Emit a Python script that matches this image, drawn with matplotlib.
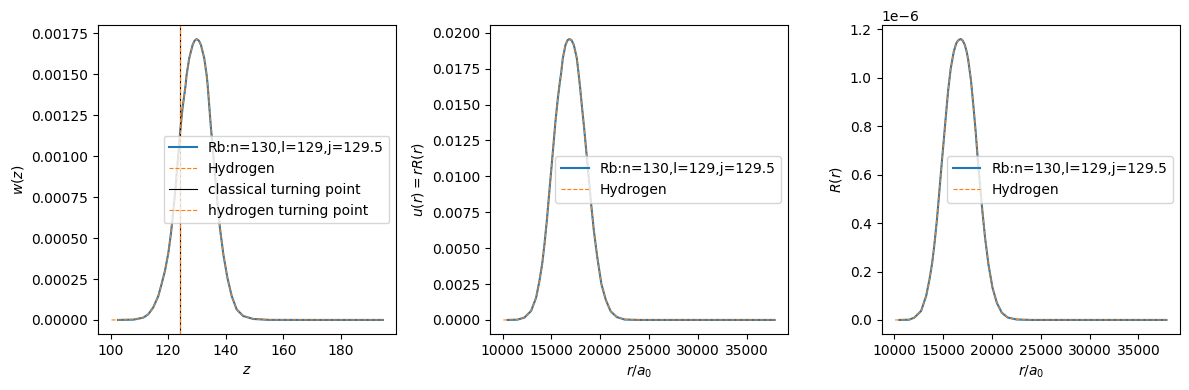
import numpy as np
import matplotlib
matplotlib.use("Agg")
import matplotlib.pyplot as plt

# values
# panel 1: w(z)
z_rb = [102.6, 108.0, 111.4, 113.1, 114.8, 116.6, 117.7, 118.9, 120.1, 121.0,
        121.8, 122.6, 123.4, 124.2, 125.0, 126.09, 126.43, 127.34, 128.52,
        129.2, 129.91, 130.7, 131.41, 132.56, 133.39, 133.74, 134.8, 135.5,
        136.3, 137.1, 138.0, 139.2, 140.6, 142.1, 143.8, 146.1, 149.6, 155.0,
        170.0, 194.6]
w_rb = [0.0, 0.000002, 0.0000142, 0.0000345, 0.0000751, 0.000146, 0.000217,
        0.000299, 0.000410, 0.000530, 0.000660, 0.000810, 0.000980, 0.001150,
        0.001290, 0.001435, 0.001496, 0.001598, 0.001679, 0.001705, 0.001715,
        0.001705, 0.001679, 0.001598, 0.001496, 0.001435, 0.001192, 0.001050,
        0.000888, 0.000725, 0.000563, 0.000400, 0.000258, 0.000146, 0.000065,
        0.000024, 0.000006, 0.0000005, 0.0, 0.0]
z_h_start = 100.35
z_turn = 124.2

# panel 2: u(r) = rR(r)
r_u = [10510, 11500, 12229, 12913, 13427, 13769, 14043, 14283, 14522, 14728,
       14967, 15207, 15412, 15652, 15850, 15998, 16163, 16440, 16650, 16851,
       17060, 17293, 17601, 17775, 17950, 18120, 18360, 18570, 18820, 19070,
       19350, 19700, 20120, 20570, 21070, 21700, 22500, 24000, 30000, 37870]
u_rb = [0.0, 0.00002, 0.000162, 0.000625, 0.00155, 0.00271, 0.00386, 0.00525,
        0.00687, 0.00849, 0.01035, 0.01220, 0.01382, 0.01540, 0.01650, 0.01720,
        0.01822, 0.01915, 0.01948, 0.01956, 0.01948, 0.01915, 0.01822, 0.01720,
        0.01610, 0.01490, 0.01330, 0.01176, 0.00991, 0.00806, 0.00620, 0.00435,
        0.00250, 0.00140, 0.00060, 0.00020, 0.00003, 0.0, 0.0, 0.0]

# panel 3: R(r)
r_R = [10490, 11500, 12040, 12731, 13248, 13594, 13870, 14111, 14353, 14560,
       14802, 15043, 15250, 15492, 15768, 16079, 16300, 16424, 16610, 16804,
       17010, 17218, 17400, 17563, 17839, 18081, 18323, 18530, 18771, 19013,
       19289, 19634, 20049, 20500, 21000, 21600, 22500, 24000, 30000, 37870]
R_rb = [0.0, 0.001e-6, 0.0096e-6, 0.037e-6, 0.099e-6, 0.168e-6, 0.236e-6,
        0.318e-6, 0.414e-6, 0.511e-6, 0.627e-6, 0.737e-6, 0.833e-6, 0.943e-6,
        1.039e-6, 1.108e-6, 1.138e-6, 1.149e-6, 1.157e-6, 1.160e-6, 1.153e-6,
        1.135e-6, 1.108e-6, 1.073e-6, 0.991e-6, 0.888e-6, 0.778e-6, 0.669e-6,
        0.559e-6, 0.449e-6, 0.339e-6, 0.229e-6, 0.133e-6, 0.070e-6, 0.030e-6,
        0.010e-6, 0.002e-6, 0.0, 0.0, 0.0]
r_h_start = 10070

rb_label = "Rb:n=130,l=129,j=129.5"

fig, axs = plt.subplots(1, 3, figsize=(11.89, 3.9), dpi=100)
fig.subplots_adjust(left=0.0824, right=0.9924, bottom=0.1436, top=0.9359,
                    wspace=0.313)

ax = axs[0]
ax.plot(z_rb, w_rb, label=rb_label)
ax.plot([z_h_start] + z_rb, [0.0] + w_rb, '--', lw=0.8, label="Hydrogen")
ax.axvline(z_turn, color='k', lw=0.8, label="classical turning point")
ax.axvline(z_turn, color='C1', ls='--', lw=0.8, label="hydrogen turning point")
ax.set_xlabel("$z$")
ax.set_ylabel("$w(z)$")
ax.legend(loc="center right")

ax = axs[1]
ax.plot(r_u, u_rb, label=rb_label)
ax.plot([r_h_start] + r_u, [0.0] + u_rb, '--', lw=0.8, label="Hydrogen")
ax.set_xlabel("$r/a_0$")
ax.set_ylabel("$u(r) = rR(r)$")
ax.legend(loc="center right")

ax = axs[2]
ax.plot(r_R, R_rb, label=rb_label)
ax.plot([r_h_start] + r_R, [0.0] + R_rb, '--', lw=0.8, label="Hydrogen")
ax.set_xlabel("$r/a_0$")
ax.set_ylabel("$R(r)$")
ax.legend(loc="center right")

fig.savefig("out.png", dpi=100)
